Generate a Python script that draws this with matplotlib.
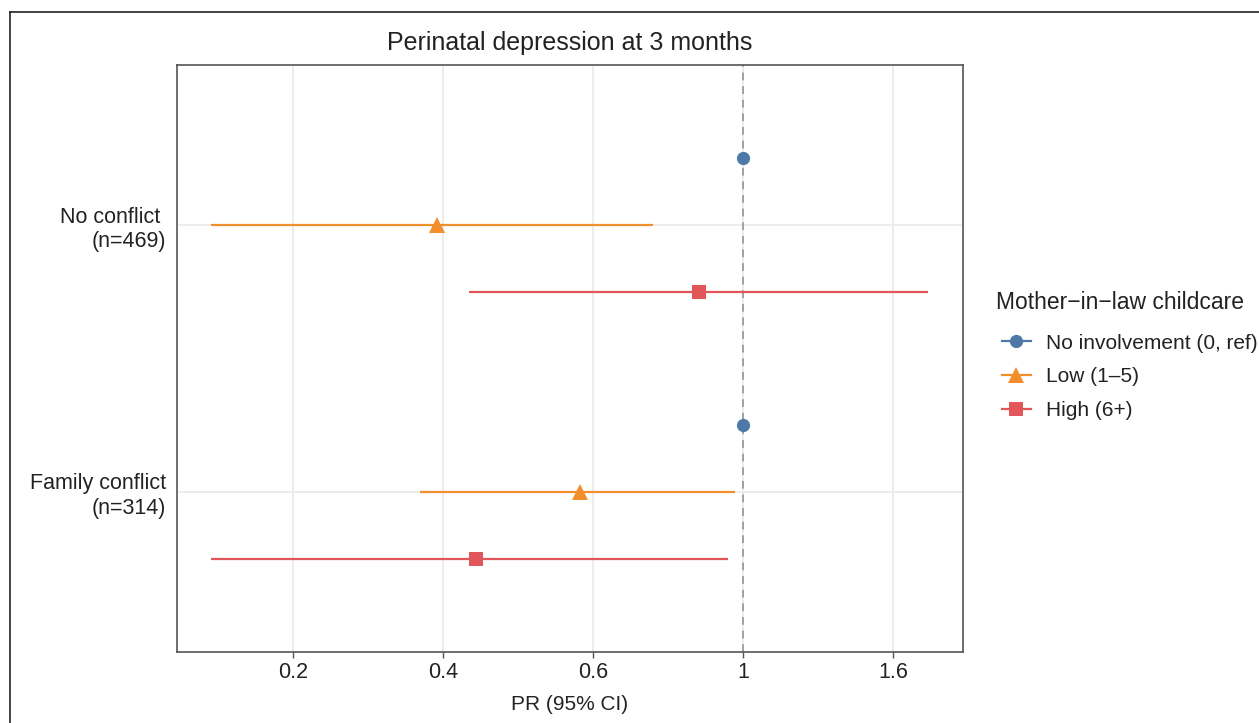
import matplotlib.pyplot as plt
import numpy as np
from matplotlib.lines import Line2D

plt.rcParams['font.family'] = ['Liberation Sans', 'DejaVu Sans']

groups = ['No conflict \n(n=469)', 'Family conflict\n(n=314)']
levels = ['No involvement (0, ref)', 'Low (1\u20135)', 'High (6+)']
colors = ['#4E79A7', '#F28E2B', '#E15759']
markers = ['o', '^', 's']
msizes = [9.5, 11, 9.5]

# PR estimates and 95% CI, rows = groups, columns = levels
pr = [[1.0, 0.361, 0.864],
      [1.0, 0.581, 0.411]]
lo = [[np.nan, 0.170, 0.401],
      [np.nan, 0.341, 0.170]]
hi = [[np.nan, 0.741, 1.853],
      [np.nan, 0.974, 0.951]]

tick_vals = np.exp([-1.5, -1.0, -0.5, 0.0, 0.5])
tick_labels = ['0.2', '0.4', '0.6', '1', '1.6']

fig = plt.figure(figsize=(12.59, 7.23), dpi=100)
ax = fig.add_axes([177/1259, 71/723, 786/1259, 587/723])
ax.set_xscale('log')

offsets = [-0.25, 0.0, 0.25]
for j, lev in enumerate(levels):
    for i in range(len(groups)):
        y = i + 1 + offsets[j]
        if not np.isnan(lo[i][j]):
            ax.plot([lo[i][j], hi[i][j]], [y, y], color=colors[j], lw=1.6,
                    solid_capstyle='butt', zorder=3)
        ax.plot(pr[i][j], y, marker=markers[j], color=colors[j],
                markersize=msizes[j], markeredgewidth=0, zorder=4)

ax.axvline(1, color='#a0a0a0', lw=1.4, ls=(0, (4, 3)), zorder=2)

ax.set_xlim(0.1516, 2.082)
ax.set_ylim(2.6, 0.4)
ax.set_xticks(tick_vals)
ax.set_xticklabels(tick_labels)
ax.xaxis.set_minor_locator(plt.NullLocator())
ax.set_yticks([1, 2])
ax.set_yticklabels(groups, multialignment='right')
ax.grid(True, color='#ebebeb', lw=1.3, zorder=0)
ax.set_axisbelow(True)

ax.tick_params(axis='x', length=4, width=1, color='#555555', labelsize=15.5,
               labelcolor='#222222', pad=3)
ax.tick_params(axis='y', length=0, labelsize=15.5, labelcolor='#222222', pad=8)
for s in ax.spines.values():
    s.set_color('#555555')
    s.set_linewidth(1.2)

ax.set_title('Perinatal depression at 3 months', fontsize=18, color='#222222', pad=11)
ax.set_xlabel('PR (95% CI)', fontsize=15, color='#222222', labelpad=9)

# legend: title drawn separately to match spacing
fig.text(996/1259, 1 - 302/723, 'Mother\u2212in\u2212law childcare', fontsize=16.5,
         color='#222222', ha='left', va='center')
handles = [Line2D([0], [0], color=c, marker=m, markersize=ms, markeredgewidth=0, lw=1.6)
           for c, m, ms in zip(colors, markers, msizes)]
leg = fig.legend(handles, levels, loc='upper left',
                 bbox_to_anchor=(983/1259, 1 - 315/723),
                 frameon=False, fontsize=15, borderpad=0.4,
                 handlelength=1.4, handletextpad=0.7, labelspacing=0.7)
for t in leg.get_texts():
    t.set_color('#222222')

# outer frame (left and top edges only)
fig.add_artist(Line2D([10/1259, 10/1259], [0, 1 - 12/723], color='#222222', lw=1.2,
                      transform=fig.transFigure))
fig.add_artist(Line2D([10/1259, 1], [1 - 12/723, 1 - 12/723], color='#222222', lw=1.2,
                      transform=fig.transFigure))

fig.savefig('out.png', dpi=100)
